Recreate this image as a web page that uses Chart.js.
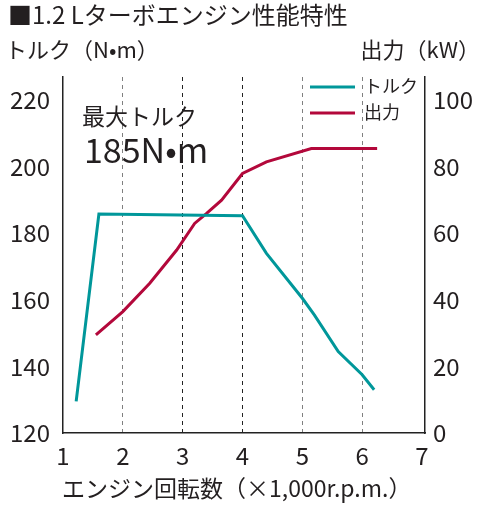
<!DOCTYPE html>
<html>
<head>
<meta charset="utf-8">
<script src="https://cdn.jsdelivr.net/npm/chart.js@4.4.1/dist/chart.umd.min.js"></script>
<style>
  html, body { margin: 0; padding: 0; background: #fff; }
  #wrap { width: 488px; height: 516px; position: relative; }
</style>
</head>
<body>
<div id="wrap"><canvas id="engineChart"></canvas></div>
<script>
// tick labels
const rpmTicks = [1, 2, 3, 4, 5, 6, 7];
const torqueTicks = [120, 140, 160, 180, 200, 220];
const powerTicks = [0, 20, 40, 60, 80, 100];

// torque curve (N·m) vs rpm (x1000)
const torqueRpm = [1.22, 1.6, 4.0, 4.4, 5.0, 5.2, 5.6, 6.0, 6.2];
const torqueNm = [129.5, 185.8, 185.3, 174, 160.5, 155.5, 144.5, 137.5, 133];

// power curve (kW) vs rpm (x1000)
const powerRpm = [1.55, 2.0, 2.45, 2.9, 3.2, 3.4, 3.65, 4.0, 4.4, 5.15, 6.25];
const powerKw = [29.5, 36.5, 45, 55, 63, 66, 70, 78, 81.5, 85.5, 85.5];

const FONT = '"Noto Sans CJK JP", "Noto Sans", sans-serif';
const TEXT = "#231f20";

// texts outside the plot + legend
const textPlugin = {
  id: "texts",
  afterDraw(chart) {
    const c = chart.ctx;
    c.save();
    c.fillStyle = TEXT;
    c.textBaseline = "middle";
    c.textAlign = "left";

    c.font = "24px " + FONT;
    c.fillText("■1.2 Lターボエンジン性能特性", 8, 15);

    c.font = "22px " + FONT;
    c.fillText("トルク（N•m）", 5, 50);
    c.textAlign = "right";
    c.fillText("出力（kW）", 480, 50);

    c.textAlign = "left";
    c.font = "23px " + FONT;
    c.fillText("エンジン回転数（×1,000r.p.m.）", 62, 488);

    // annotation
    c.font = "23px " + FONT;
    c.fillText("最大トルク", 82, 116);
    c.font = "34px " + FONT;
    c.fillText("185N•m", 84, 150);

    // legend
    const rows = [87, 113];
    chart.data.datasets.forEach((ds, i) => {
      c.strokeStyle = ds.borderColor;
      c.lineWidth = 3;
      c.beginPath();
      c.moveTo(310, rows[i]);
      c.lineTo(355, rows[i]);
      c.stroke();
      c.font = "18px " + FONT;
      c.fillText(ds.label, 364, rows[i] - 1);
    });
    c.restore();
  },
};

const tickFont = { family: FONT, size: 24 };

const ctx = document.getElementById("engineChart").getContext("2d");
const engineChart = new Chart(ctx, {
  type: "line",
  data: {
    datasets: [
      {
        label: "トルク",
        data: torqueRpm.map((x, i) => ({ x: x, y: torqueNm[i] })),
        borderColor: "#00979a",
        borderWidth: 3,
        pointRadius: 0,
        tension: 0,
        yAxisID: "yTorque",
      },
      {
        label: "出力",
        data: powerRpm.map((x, i) => ({ x: x, y: powerKw[i] })),
        borderColor: "#b3083b",
        borderWidth: 3,
        pointRadius: 0,
        tension: 0,
        yAxisID: "yPower",
      },
    ],
  },
  options: {
    responsive: true,
    maintainAspectRatio: false,
    animation: false,
    layout: { padding: { top: 77, left: 0, right: 0, bottom: 0 } },
    plugins: {
      legend: { display: false },
      tooltip: { enabled: false },
    },
    scales: {
      x: {
        type: "linear",
        min: 1,
        max: 7.05,
        afterBuildTicks: (s) => { s.ticks = rpmTicks.map((v) => ({ value: v })); },
        afterFit: (s) => { s.height = 83; },
        grid: {
          drawTicks: false,
          lineWidth: 1,
          color: (c) => {
            const v = c.tick && c.tick.value;
            if (v === 3 || v === 4) return "#222";
            if (v === 2 || v === 5 || v === 6) return "#808080";
            return "rgba(0,0,0,0)";
          },
        },
        border: { display: true, color: "#222", width: 1.5, dash: [4, 4] },
        ticks: { font: tickFont, color: TEXT, padding: 8, maxRotation: 0, autoSkip: false },
      },
      yTorque: {
        position: "left",
        min: 120,
        max: 227,
        afterBuildTicks: (s) => { s.ticks = torqueTicks.map((v) => ({ value: v })); },
        afterFit: (s) => { s.width = 63; },
        grid: { display: false, drawTicks: false },
        border: { display: true, color: "#222", width: 1.5 },
        ticks: { font: tickFont, color: TEXT, padding: 13 },
      },
      yPower: {
        position: "right",
        min: 0,
        max: 107,
        afterBuildTicks: (s) => { s.ticks = powerTicks.map((v) => ({ value: v })); },
        afterFit: (s) => { s.width = 63; },
        grid: { display: false, drawTicks: false },
        border: { display: true, color: "#222", width: 1.5 },
        ticks: { font: tickFont, color: TEXT, padding: 8 },
      },
    },
  },
  plugins: [textPlugin],
});
</script>
</body>
</html>
